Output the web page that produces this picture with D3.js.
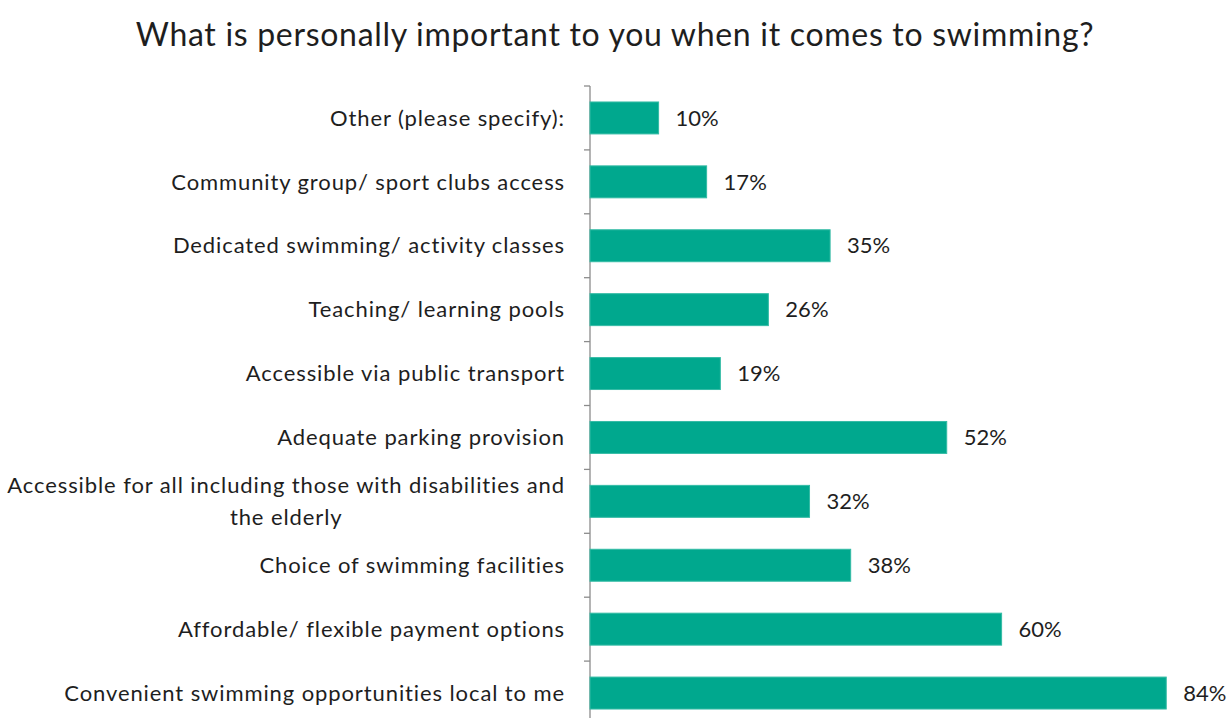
<!DOCTYPE html>
<html>
<head>
<meta charset="utf-8">
<script src="https://cdn.jsdelivr.net/npm/d3@7"></script>
<style>
  body { margin: 0; background: #fff; }
  text { font-family: Lato, "Open Sans", sans-serif; fill: #1e1e1e; }
  .lbl { letter-spacing: 0.9px; }
</style>
</head>
<body>
<div id="chart"></div>
<script>
// survey answers, top to bottom as in the picture
var categories = [
  "Other (please specify):",
  "Community group/ sport clubs access",
  "Dedicated swimming/ activity classes",
  "Teaching/ learning pools",
  "Accessible via public transport",
  "Adequate parking provision",
  "Accessible for all including those with disabilities and|the elderly",
  "Choice of swimming facilities",
  "Affordable/ flexible payment options",
  "Convenient swimming opportunities local to me"
];
var values = [10, 17, 35, 26, 19, 52, 32, 38, 60, 84];

var W = 1231, H = 718;
var margin = { top: 86, left: 590 };
var fs = "22px";

var svg = d3.select("#chart").append("svg")
    .attr("width", W)
    .attr("height", H);

svg.append("text")
    .attr("x", 615)
    .attr("y", 46)
    .attr("text-anchor", "middle")
    .style("font-size", "32px")
    .style("letter-spacing", "0.7px")
    .text("What is personally important to you when it comes to swimming?");

var g = svg.append("g").attr("transform", "translate(" + margin.left + "," + margin.top + ")");

var x = d3.scaleLinear().domain([0, 100]).range([0, 686]);
var y = d3.scaleBand().domain(categories).range([0, 639]).paddingInner(0.5).paddingOuter(0.25);

// axis line + ticks at band boundaries
var step = y.step();
var bounds = d3.range(categories.length + 1).map(function (i) { return i * step; });
g.append("line")
    .attr("x1", 0).attr("x2", 0)
    .attr("y1", 0).attr("y2", 639)
    .attr("stroke", "#8c8c8c").attr("stroke-width", 1.3);
g.selectAll(".tk").data(bounds).enter().append("line")
    .attr("class", "tk")
    .attr("x1", -6).attr("x2", 0)
    .attr("y1", function (d) { return d; }).attr("y2", function (d) { return d; })
    .attr("stroke", "#8c8c8c").attr("stroke-width", 1.3);

g.selectAll(".bar").data(values).enter().append("rect")
    .attr("class", "bar")
    .attr("x", 0)
    .attr("y", function (d, i) { return y(categories[i]); })
    .attr("width", function (d) { return x(d); })
    .attr("height", y.bandwidth())
    .attr("fill", "#00a88e")
    .attr("stroke", "#34bba5")
    .attr("stroke-width", 1);

g.selectAll(".val").data(values).enter().append("text")
    .attr("class", "val")
    .attr("x", function (d) { return x(d) + 17; })
    .attr("y", function (d, i) { return y(categories[i]) + y.bandwidth() / 2; })
    .attr("dy", "0.35em")
    .style("font-size", fs)
    .text(function (d) { return d + "%"; });

// category labels (one may wrap onto two lines)
g.selectAll(".cat").data(categories).enter().append("g")
    .attr("class", "cat")
    .each(function (d) {
      var lines = d.split("|");
      var cy = y(d) + y.bandwidth() / 2;
      var gg = d3.select(this);
      if (lines.length === 1) {
        gg.append("text").attr("class", "lbl")
          .attr("x", -25).attr("y", cy).attr("dy", "0.35em")
          .attr("text-anchor", "end")
          .style("font-size", fs)
          .text(lines[0]);
      } else {
        var first = gg.append("text").attr("class", "lbl")
          .attr("x", -25).attr("y", cy - 16).attr("dy", "0.35em")
          .attr("text-anchor", "end")
          .style("font-size", fs)
          .text(lines[0]);
        var w = first.node().getComputedTextLength();
        gg.append("text").attr("class", "lbl")
          .attr("x", -25 - w / 2).attr("y", cy + 16).attr("dy", "0.35em")
          .attr("text-anchor", "middle")
          .style("font-size", fs)
          .text(lines[1]);
      }
    });
</script>
</body>
</html>
